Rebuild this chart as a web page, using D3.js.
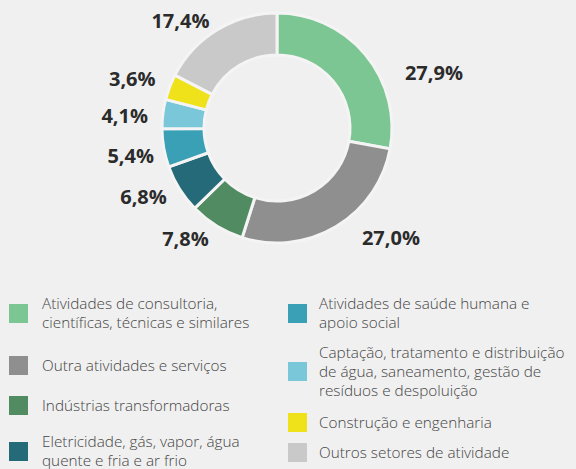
<!DOCTYPE html>
<html>
<head>
<meta charset="utf-8">
<script src="https://cdn.jsdelivr.net/npm/d3@7"></script>
<style>
  html, body { margin: 0; padding: 0; background: #f0f0f0; }
  svg { display: block; font-family: "Open Sans", sans-serif; }
</style>
</head>
<body>
<svg width="576" height="469"></svg>
<script>
// Sectors, in drawing order (clockwise from the top)
const sectors = [
  'Atividades de consultoria,\ncientíficas, técnicas e similares',
  'Outra atividades e serviços',
  'Indústrias transformadoras',
  'Eletricidade, gás, vapor, água\nquente e fria e ar frio',
  'Atividades de saúde humana e\napoio social',
  'Captação, tratamento e distribuição\nde água, saneamento, gestão de\nresíduos e despoluição',
  'Construção e engenharia',
  'Outros setores de atividade'
];
const shares = [27.9, 27.0, 7.8, 6.8, 5.4, 4.1, 3.6, 17.4];
const colors = ['#7bc693', '#8f8f8f', '#518b62', '#256a79', '#3aa0b6', '#79c7d9', '#efe21a', '#c9c9c9'];

// Layout
const svg = d3.select('svg');
const cx = 277, cy = 128;
const outerR = 115, innerR = 73, labelR = 130;
// extra nudges for the two big labels
const labelNudge = [[28, 28], [18, -2], [0, 0], [0, 0], [5, 5], [0, 4], [0, -3], [0, 4]];

const pie = d3.pie().sort(null).value(d => d);
const arcs = pie(shares);
const arc = d3.arc().innerRadius(innerR).outerRadius(outerR);

const g = svg.append('g').attr('transform', `translate(${cx},${cy})`);

g.selectAll('path')
  .data(arcs)
  .join('path')
  .attr('d', arc)
  .attr('fill', (d, i) => colors[i])
  .attr('stroke', '#f4f4f4')
  .attr('stroke-width', 3);

const fmt = v => d3.format('.1f')(v).replace('.', ',') + '%';

g.selectAll('text.lbl')
  .data(arcs)
  .join('text')
  .attr('class', 'lbl')
  .attr('x', (d, i) => {
    const a = (d.startAngle + d.endAngle) / 2;
    return Math.sin(a) * labelR + labelNudge[i][0];
  })
  .attr('y', (d, i) => {
    const a = (d.startAngle + d.endAngle) / 2;
    return -Math.cos(a) * labelR + labelNudge[i][1];
  })
  .attr('dy', '0.36em')
  .attr('text-anchor', d => ((d.startAngle + d.endAngle) / 2 < Math.PI ? 'start' : 'end'))
  .attr('font-size', 20)
  .attr('font-weight', 700)
  .attr('fill', '#2b2b2b')
  .text(d => fmt(d.data));

// Legend: two columns, four rows each
const legendCols = [
  { sq: 9, tx: 42 },
  { sq: 288, tx: 319 }
];
const legendRowY = [
  [313.5, 365.5, 405.5, 451.5],
  [313.5, 371.5, 422.5, 452.5]
];
const lineH = 19;

const legend = svg.append('g');
const items = legend.selectAll('g')
  .data(sectors.map((s, i) => ({ label: s, i })))
  .join('g')
  .attr('transform', d => {
    const col = Math.floor(d.i / 4), row = d.i % 4;
    return `translate(0,${legendRowY[col][row]})`;
  });

items.append('rect')
  .attr('x', d => legendCols[Math.floor(d.i / 4)].sq)
  .attr('y', -9.5)
  .attr('width', 19)
  .attr('height', 19)
  .attr('fill', d => colors[d.i]);

items.append('text')
  .attr('font-size', 15.3)
  .attr('font-weight', 300)
  .attr('fill', '#454545')
  .each(function (d) {
    const lines = d.label.split('\n');
    const t = d3.select(this);
    const x = legendCols[Math.floor(d.i / 4)].tx;
    lines.forEach((ln, k) => {
      t.append('tspan')
        .attr('x', x)
        .attr('y', (k - (lines.length - 1) / 2) * lineH)
        .attr('dy', '0.35em')
        .text(ln);
    });
  });
</script>
</body>
</html>
